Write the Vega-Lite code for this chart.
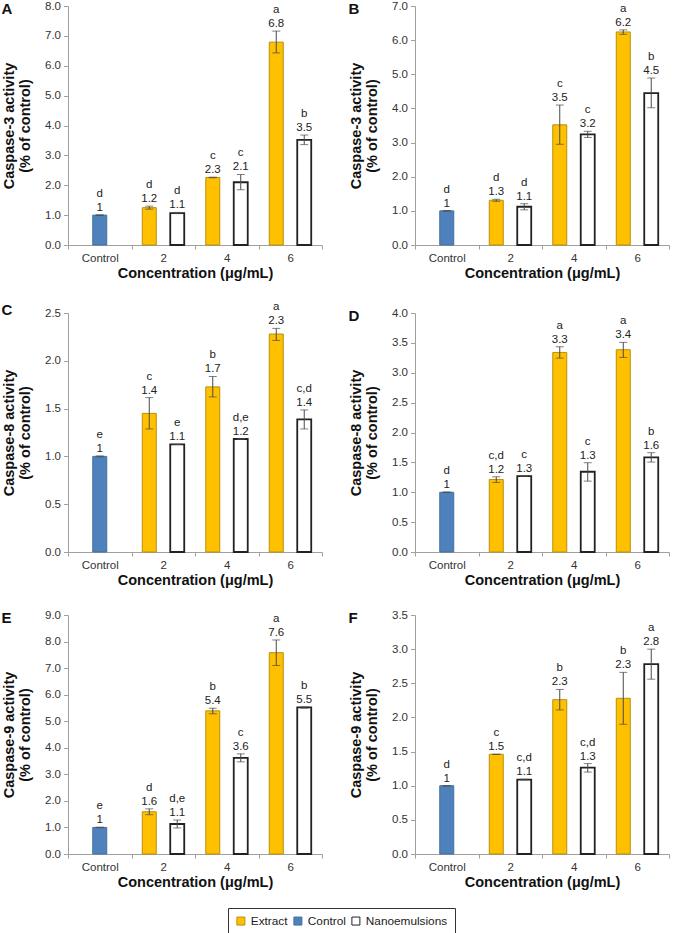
{
  "$schema": "https://vega.github.io/schema/vega-lite/v6.json",
  "padding": {"left": 1, "top": 0, "right": 2, "bottom": 0},
  "config": {
    "font": "Liberation Sans",
    "view": {"stroke": null},
    "axis": {
      "labelFont": "Liberation Sans", "labelFontSize": 11.5, "labelColor": "#333333", "labelOverlap": false,
      "titleFont": "Liberation Sans", "titleFontSize": 14.5, "titleFontWeight": "bold", "titleColor": "#111111", "titleLineHeight": 16,
      "domainColor": "#a0a0a0", "tickColor": "#a0a0a0", "tickSize": 4.5, "grid": false
    },
    "axisY": {"labelPadding": 3, "titlePadding": 12, "format": ".1f", "tickCount": 20},
    "axisX": {"labelAngle": 0, "tickBand": "extent", "labelPadding": 3, "titlePadding": 3, "tickSize": 4},
    "title": {"font": "Liberation Sans", "fontSize": 15, "fontWeight": "bold", "color": "#111111", "anchor": "start", "frame": "bounds", "offset": 0, "dy": 21},
    "legend": {
      "orient": "none", "legendX": 160, "legendY": 902, "direction": "horizontal", "title": null,
      "labelFont": "Liberation Sans", "labelFontSize": 11.8, "labelColor": "#222222", "labelOffset": 4,
      "symbolType": "square", "symbolSize": 64, "symbolStrokeWidth": 1,
      "strokeColor": "#333333", "padding": 7, "columnPadding": 3
    }
  },
  "data": {"values": [
    {"p": "A", "g": "Control", "s": "Control", "pos": "C", "v": 1.0, "lo": 0.99, "hi": 1.01, "sig": "d", "lbl": "1"},
    {"p": "A", "g": "2", "s": "Extract", "pos": "L", "v": 1.25, "lo": 1.2, "hi": 1.3, "sig": "d", "lbl": "1.2"},
    {"p": "A", "g": "2", "s": "Nanoemulsions", "pos": "R", "v": 1.07, "lo": 1.05, "hi": 1.09, "sig": "d", "lbl": "1.1"},
    {"p": "A", "g": "4", "s": "Extract", "pos": "L", "v": 2.26, "lo": 2.25, "hi": 2.27, "sig": "c", "lbl": "2.3"},
    {"p": "A", "g": "4", "s": "Nanoemulsions", "pos": "R", "v": 2.1, "lo": 1.85, "hi": 2.36, "sig": "c", "lbl": "2.1"},
    {"p": "A", "g": "6", "s": "Extract", "pos": "L", "v": 6.79, "lo": 6.43, "hi": 7.16, "sig": "a", "lbl": "6.8"},
    {"p": "A", "g": "6", "s": "Nanoemulsions", "pos": "R", "v": 3.52, "lo": 3.36, "hi": 3.68, "sig": "b", "lbl": "3.5"},

    {"p": "B", "g": "Control", "s": "Control", "pos": "C", "v": 1.0, "lo": 0.99, "hi": 1.01, "sig": "d", "lbl": "1"},
    {"p": "B", "g": "2", "s": "Extract", "pos": "L", "v": 1.31, "lo": 1.28, "hi": 1.34, "sig": "d", "lbl": "1.3"},
    {"p": "B", "g": "2", "s": "Nanoemulsions", "pos": "R", "v": 1.12, "lo": 1.03, "hi": 1.21, "sig": "d", "lbl": "1.1"},
    {"p": "B", "g": "4", "s": "Extract", "pos": "L", "v": 3.52, "lo": 2.95, "hi": 4.1, "sig": "c", "lbl": "3.5"},
    {"p": "B", "g": "4", "s": "Nanoemulsions", "pos": "R", "v": 3.24, "lo": 3.15, "hi": 3.33, "sig": "c", "lbl": "3.2"},
    {"p": "B", "g": "6", "s": "Extract", "pos": "L", "v": 6.24, "lo": 6.17, "hi": 6.3, "sig": "a", "lbl": "6.2"},
    {"p": "B", "g": "6", "s": "Nanoemulsions", "pos": "R", "v": 4.45, "lo": 4.02, "hi": 4.89, "sig": "b", "lbl": "4.5"},

    {"p": "C", "g": "Control", "s": "Control", "pos": "C", "v": 1.0, "lo": 0.995, "hi": 1.005, "sig": "e", "lbl": "1"},
    {"p": "C", "g": "2", "s": "Extract", "pos": "L", "v": 1.45, "lo": 1.287, "hi": 1.615, "sig": "c", "lbl": "1.4"},
    {"p": "C", "g": "2", "s": "Nanoemulsions", "pos": "R", "v": 1.126, "lo": 1.126, "hi": 1.126, "sig": "e", "lbl": "1.1"},
    {"p": "C", "g": "4", "s": "Extract", "pos": "L", "v": 1.727, "lo": 1.622, "hi": 1.836, "sig": "b", "lbl": "1.7"},
    {"p": "C", "g": "4", "s": "Nanoemulsions", "pos": "R", "v": 1.182, "lo": 1.18, "hi": 1.184, "sig": "d,e", "lbl": "1.2"},
    {"p": "C", "g": "6", "s": "Extract", "pos": "L", "v": 2.28, "lo": 2.213, "hi": 2.339, "sig": "a", "lbl": "2.3"},
    {"p": "C", "g": "6", "s": "Nanoemulsions", "pos": "R", "v": 1.388, "lo": 1.287, "hi": 1.486, "sig": "c,d", "lbl": "1.4"},

    {"p": "D", "g": "Control", "s": "Control", "pos": "C", "v": 1.0, "lo": 0.995, "hi": 1.005, "sig": "d", "lbl": "1"},
    {"p": "D", "g": "2", "s": "Extract", "pos": "L", "v": 1.214, "lo": 1.164, "hi": 1.259, "sig": "c,d", "lbl": "1.2"},
    {"p": "D", "g": "2", "s": "Nanoemulsions", "pos": "R", "v": 1.27, "lo": 1.27, "hi": 1.27, "sig": "c", "lbl": "1.3"},
    {"p": "D", "g": "4", "s": "Extract", "pos": "L", "v": 3.34, "lo": 3.245, "hi": 3.435, "sig": "a", "lbl": "3.3"},
    {"p": "D", "g": "4", "s": "Nanoemulsions", "pos": "R", "v": 1.343, "lo": 1.186, "hi": 1.494, "sig": "c", "lbl": "1.3"},
    {"p": "D", "g": "6", "s": "Extract", "pos": "L", "v": 3.385, "lo": 3.256, "hi": 3.508, "sig": "a", "lbl": "3.4"},
    {"p": "D", "g": "6", "s": "Nanoemulsions", "pos": "R", "v": 1.583, "lo": 1.505, "hi": 1.662, "sig": "b", "lbl": "1.6"},

    {"p": "E", "g": "Control", "s": "Control", "pos": "C", "v": 1.0, "lo": 0.99, "hi": 1.01, "sig": "e", "lbl": "1"},
    {"p": "E", "g": "2", "s": "Extract", "pos": "L", "v": 1.59, "lo": 1.48, "hi": 1.7, "sig": "d", "lbl": "1.6"},
    {"p": "E", "g": "2", "s": "Nanoemulsions", "pos": "R", "v": 1.13, "lo": 0.98, "hi": 1.28, "sig": "d,e", "lbl": "1.1"},
    {"p": "E", "g": "4", "s": "Extract", "pos": "L", "v": 5.39, "lo": 5.28, "hi": 5.49, "sig": "b", "lbl": "5.4"},
    {"p": "E", "g": "4", "s": "Nanoemulsions", "pos": "R", "v": 3.62, "lo": 3.47, "hi": 3.77, "sig": "c", "lbl": "3.6"},
    {"p": "E", "g": "6", "s": "Extract", "pos": "L", "v": 7.58, "lo": 7.1, "hi": 8.06, "sig": "a", "lbl": "7.6"},
    {"p": "E", "g": "6", "s": "Nanoemulsions", "pos": "R", "v": 5.52, "lo": 5.49, "hi": 5.54, "sig": "b", "lbl": "5.5"},

    {"p": "F", "g": "Control", "s": "Control", "pos": "C", "v": 1.0, "lo": 0.995, "hi": 1.0, "sig": "d", "lbl": "1"},
    {"p": "F", "g": "2", "s": "Extract", "pos": "L", "v": 1.46, "lo": 1.46, "hi": 1.46, "sig": "c", "lbl": "1.5"},
    {"p": "F", "g": "2", "s": "Nanoemulsions", "pos": "R", "v": 1.09, "lo": 1.085, "hi": 1.095, "sig": "c,d", "lbl": "1.1"},
    {"p": "F", "g": "4", "s": "Extract", "pos": "L", "v": 2.26, "lo": 2.11, "hi": 2.41, "sig": "b", "lbl": "2.3"},
    {"p": "F", "g": "4", "s": "Nanoemulsions", "pos": "R", "v": 1.266, "lo": 1.2, "hi": 1.324, "sig": "c,d", "lbl": "1.3"},
    {"p": "F", "g": "6", "s": "Extract", "pos": "L", "v": 2.28, "lo": 1.9, "hi": 2.66, "sig": "b", "lbl": "2.3"},
    {"p": "F", "g": "6", "s": "Nanoemulsions", "pos": "R", "v": 2.78, "lo": 2.56, "hi": 3.0, "sig": "a", "lbl": "2.8"}
  ]},
  "resolve": {"scale": {"fill": "shared", "stroke": "shared", "y": "independent", "x": "independent"}},
  "spacing": 21,
  "vconcat": [
    {
      "hconcat": [
        {
          "title": {"text": "A"},
          "width": 254, "height": 239,
          "transform": [{"filter": "datum.p == 'A'"}],
          "encoding": {
            "x": {"field": "g", "type": "nominal", "scale": {"domain": ["Control", "2", "4", "6"], "paddingInner": 0, "paddingOuter": 0}, "axis": {"title": "Concentration (μg/mL)"}},
            "xOffset": {"field": "pos", "type": "nominal", "scale": {"domain": ["L", "C", "R"], "paddingInner": 0, "paddingOuter": 0.77}}
          },
          "layer": [
            {"mark": {"type": "bar"},
             "encoding": {
               "y": {"field": "v", "type": "quantitative", "scale": {"domain": [0, 8], "nice": false},
                     "axis": {"values": [0,1,2,3,4,5,6,7,8], "tickCount": 20, "format": ".1f", "title": ["Caspase-3 activity", "(% of control)"]}},
               "fill": {"field": "s", "type": "nominal", "scale": {"domain": ["Extract", "Control", "Nanoemulsions"], "range": ["#FFC000", "#4F81BD", "#FFFFFF"]}},
               "stroke": {"field": "s", "type": "nominal", "scale": {"domain": ["Extract", "Control", "Nanoemulsions"], "range": ["#B8900A", "#41719C", "#222222"]}},
               "strokeWidth": {"condition": {"test": "datum.s == 'Nanoemulsions'", "value": 1.8}, "value": 1}
             }},
            {"mark": {"type": "rule", "color": "#4a4a4a", "strokeWidth": 1}, "encoding": {"y": {"field": "lo", "type": "quantitative"}, "y2": {"field": "hi"}}},
            {"mark": {"type": "tick", "color": "#4a4a4a", "size": 8, "thickness": 1}, "encoding": {"y": {"field": "lo", "type": "quantitative"}}},
            {"mark": {"type": "tick", "color": "#4a4a4a", "size": 8, "thickness": 1}, "encoding": {"y": {"field": "hi", "type": "quantitative"}}},
            {"mark": {"type": "text", "baseline": "alphabetic", "dy": -4, "fontSize": 11.5, "color": "#222222"}, "encoding": {"y": {"field": "hi", "type": "quantitative"}, "text": {"field": "lbl"}}},
            {"mark": {"type": "text", "baseline": "alphabetic", "dy": -18, "fontSize": 11.5, "color": "#222222"}, "encoding": {"y": {"field": "hi", "type": "quantitative"}, "text": {"field": "sig"}}}
          ]
        },
        {
          "title": {"text": "B"},
          "width": 254, "height": 239,
          "transform": [{"filter": "datum.p == 'B'"}],
          "encoding": {
            "x": {"field": "g", "type": "nominal", "scale": {"domain": ["Control", "2", "4", "6"], "paddingInner": 0, "paddingOuter": 0}, "axis": {"title": "Concentration (μg/mL)"}},
            "xOffset": {"field": "pos", "type": "nominal", "scale": {"domain": ["L", "C", "R"], "paddingInner": 0, "paddingOuter": 0.77}}
          },
          "layer": [
            {"mark": {"type": "bar"},
             "encoding": {
               "y": {"field": "v", "type": "quantitative", "scale": {"domain": [0, 7], "nice": false},
                     "axis": {"values": [0,1,2,3,4,5,6,7], "tickCount": 20, "format": ".1f", "title": ["Caspase-3 activity", "(% of control)"]}},
               "fill": {"field": "s", "type": "nominal", "scale": {"domain": ["Extract", "Control", "Nanoemulsions"], "range": ["#FFC000", "#4F81BD", "#FFFFFF"]}},
               "stroke": {"field": "s", "type": "nominal", "scale": {"domain": ["Extract", "Control", "Nanoemulsions"], "range": ["#B8900A", "#41719C", "#222222"]}},
               "strokeWidth": {"condition": {"test": "datum.s == 'Nanoemulsions'", "value": 1.8}, "value": 1}
             }},
            {"mark": {"type": "rule", "color": "#4a4a4a", "strokeWidth": 1}, "encoding": {"y": {"field": "lo", "type": "quantitative"}, "y2": {"field": "hi"}}},
            {"mark": {"type": "tick", "color": "#4a4a4a", "size": 8, "thickness": 1}, "encoding": {"y": {"field": "lo", "type": "quantitative"}}},
            {"mark": {"type": "tick", "color": "#4a4a4a", "size": 8, "thickness": 1}, "encoding": {"y": {"field": "hi", "type": "quantitative"}}},
            {"mark": {"type": "text", "baseline": "alphabetic", "dy": -4, "fontSize": 11.5, "color": "#222222"}, "encoding": {"y": {"field": "hi", "type": "quantitative"}, "text": {"field": "lbl"}}},
            {"mark": {"type": "text", "baseline": "alphabetic", "dy": -18, "fontSize": 11.5, "color": "#222222"}, "encoding": {"y": {"field": "hi", "type": "quantitative"}, "text": {"field": "sig"}}}
          ]
        }
      ],
      "spacing": 25,
      "resolve": {"scale": {"fill": "shared", "stroke": "shared", "y": "independent", "x": "independent"}}
    },
    {
      "spacing": 22,
      "resolve": {"scale": {"fill": "shared", "stroke": "shared", "y": "independent", "x": "independent"}},
      "vconcat": [
        {
          "hconcat": [
            {
              "title": {"text": "C"},
              "width": 254, "height": 239,
              "transform": [{"filter": "datum.p == 'C'"}],
              "encoding": {
                "x": {"field": "g", "type": "nominal", "scale": {"domain": ["Control", "2", "4", "6"], "paddingInner": 0, "paddingOuter": 0}, "axis": {"title": "Concentration (μg/mL)"}},
                "xOffset": {"field": "pos", "type": "nominal", "scale": {"domain": ["L", "C", "R"], "paddingInner": 0, "paddingOuter": 0.77}}
              },
              "layer": [
                {"mark": {"type": "bar"},
                 "encoding": {
                   "y": {"field": "v", "type": "quantitative", "scale": {"domain": [0, 2.5], "nice": false},
                         "axis": {"values": [0,0.5,1,1.5,2,2.5], "tickCount": 20, "format": ".1f", "title": ["Caspase-8 activity", "(% of control)"]}},
                   "fill": {"field": "s", "type": "nominal", "scale": {"domain": ["Extract", "Control", "Nanoemulsions"], "range": ["#FFC000", "#4F81BD", "#FFFFFF"]}},
                   "stroke": {"field": "s", "type": "nominal", "scale": {"domain": ["Extract", "Control", "Nanoemulsions"], "range": ["#B8900A", "#41719C", "#222222"]}},
                   "strokeWidth": {"condition": {"test": "datum.s == 'Nanoemulsions'", "value": 1.8}, "value": 1}
                 }},
                {"mark": {"type": "rule", "color": "#4a4a4a", "strokeWidth": 1}, "encoding": {"y": {"field": "lo", "type": "quantitative"}, "y2": {"field": "hi"}}},
                {"mark": {"type": "tick", "color": "#4a4a4a", "size": 8, "thickness": 1}, "encoding": {"y": {"field": "lo", "type": "quantitative"}}},
                {"mark": {"type": "tick", "color": "#4a4a4a", "size": 8, "thickness": 1}, "encoding": {"y": {"field": "hi", "type": "quantitative"}}},
                {"mark": {"type": "text", "baseline": "alphabetic", "dy": -4, "fontSize": 11.5, "color": "#222222"}, "encoding": {"y": {"field": "hi", "type": "quantitative"}, "text": {"field": "lbl"}}},
                {"mark": {"type": "text", "baseline": "alphabetic", "dy": -18, "fontSize": 11.5, "color": "#222222"}, "encoding": {"y": {"field": "hi", "type": "quantitative"}, "text": {"field": "sig"}}}
              ]
            },
            {
              "title": {"text": "D"},
              "width": 254, "height": 239,
              "transform": [{"filter": "datum.p == 'D'"}],
              "encoding": {
                "x": {"field": "g", "type": "nominal", "scale": {"domain": ["Control", "2", "4", "6"], "paddingInner": 0, "paddingOuter": 0}, "axis": {"title": "Concentration (μg/mL)"}},
                "xOffset": {"field": "pos", "type": "nominal", "scale": {"domain": ["L", "C", "R"], "paddingInner": 0, "paddingOuter": 0.77}}
              },
              "layer": [
                {"mark": {"type": "bar"},
                 "encoding": {
                   "y": {"field": "v", "type": "quantitative", "scale": {"domain": [0, 4], "nice": false},
                         "axis": {"values": [0,0.5,1,1.5,2,2.5,3,3.5,4], "tickCount": 20, "format": ".1f", "title": ["Caspase-8 activity", "(% of control)"]}},
                   "fill": {"field": "s", "type": "nominal", "scale": {"domain": ["Extract", "Control", "Nanoemulsions"], "range": ["#FFC000", "#4F81BD", "#FFFFFF"]}},
                   "stroke": {"field": "s", "type": "nominal", "scale": {"domain": ["Extract", "Control", "Nanoemulsions"], "range": ["#B8900A", "#41719C", "#222222"]}},
                   "strokeWidth": {"condition": {"test": "datum.s == 'Nanoemulsions'", "value": 1.8}, "value": 1}
                 }},
                {"mark": {"type": "rule", "color": "#4a4a4a", "strokeWidth": 1}, "encoding": {"y": {"field": "lo", "type": "quantitative"}, "y2": {"field": "hi"}}},
                {"mark": {"type": "tick", "color": "#4a4a4a", "size": 8, "thickness": 1}, "encoding": {"y": {"field": "lo", "type": "quantitative"}}},
                {"mark": {"type": "tick", "color": "#4a4a4a", "size": 8, "thickness": 1}, "encoding": {"y": {"field": "hi", "type": "quantitative"}}},
                {"mark": {"type": "text", "baseline": "alphabetic", "dy": -4, "fontSize": 11.5, "color": "#222222"}, "encoding": {"y": {"field": "hi", "type": "quantitative"}, "text": {"field": "lbl"}}},
                {"mark": {"type": "text", "baseline": "alphabetic", "dy": -18, "fontSize": 11.5, "color": "#222222"}, "encoding": {"y": {"field": "hi", "type": "quantitative"}, "text": {"field": "sig"}}}
              ]
            }
          ],
          "spacing": 25,
          "resolve": {"scale": {"fill": "shared", "stroke": "shared", "y": "independent", "x": "independent"}}
        },
        {
          "hconcat": [
            {
              "title": {"text": "E"},
              "width": 254, "height": 239,
              "transform": [{"filter": "datum.p == 'E'"}],
              "encoding": {
                "x": {"field": "g", "type": "nominal", "scale": {"domain": ["Control", "2", "4", "6"], "paddingInner": 0, "paddingOuter": 0}, "axis": {"title": "Concentration (μg/mL)"}},
                "xOffset": {"field": "pos", "type": "nominal", "scale": {"domain": ["L", "C", "R"], "paddingInner": 0, "paddingOuter": 0.77}}
              },
              "layer": [
                {"mark": {"type": "bar"},
                 "encoding": {
                   "y": {"field": "v", "type": "quantitative", "scale": {"domain": [0, 9], "nice": false},
                         "axis": {"values": [0,1,2,3,4,5,6,7,8,9], "tickCount": 20, "format": ".1f", "title": ["Caspase-9 activity", "(% of control)"]}},
                   "fill": {"field": "s", "type": "nominal", "scale": {"domain": ["Extract", "Control", "Nanoemulsions"], "range": ["#FFC000", "#4F81BD", "#FFFFFF"]}},
                   "stroke": {"field": "s", "type": "nominal", "scale": {"domain": ["Extract", "Control", "Nanoemulsions"], "range": ["#B8900A", "#41719C", "#222222"]}},
                   "strokeWidth": {"condition": {"test": "datum.s == 'Nanoemulsions'", "value": 1.8}, "value": 1}
                 }},
                {"mark": {"type": "rule", "color": "#4a4a4a", "strokeWidth": 1}, "encoding": {"y": {"field": "lo", "type": "quantitative"}, "y2": {"field": "hi"}}},
                {"mark": {"type": "tick", "color": "#4a4a4a", "size": 8, "thickness": 1}, "encoding": {"y": {"field": "lo", "type": "quantitative"}}},
                {"mark": {"type": "tick", "color": "#4a4a4a", "size": 8, "thickness": 1}, "encoding": {"y": {"field": "hi", "type": "quantitative"}}},
                {"mark": {"type": "text", "baseline": "alphabetic", "dy": -4, "fontSize": 11.5, "color": "#222222"}, "encoding": {"y": {"field": "hi", "type": "quantitative"}, "text": {"field": "lbl"}}},
                {"mark": {"type": "text", "baseline": "alphabetic", "dy": -18, "fontSize": 11.5, "color": "#222222"}, "encoding": {"y": {"field": "hi", "type": "quantitative"}, "text": {"field": "sig"}}}
              ]
            },
            {
              "title": {"text": "F"},
              "width": 254, "height": 239,
              "transform": [{"filter": "datum.p == 'F'"}],
              "encoding": {
                "x": {"field": "g", "type": "nominal", "scale": {"domain": ["Control", "2", "4", "6"], "paddingInner": 0, "paddingOuter": 0}, "axis": {"title": "Concentration (μg/mL)"}},
                "xOffset": {"field": "pos", "type": "nominal", "scale": {"domain": ["L", "C", "R"], "paddingInner": 0, "paddingOuter": 0.77}}
              },
              "layer": [
                {"mark": {"type": "bar"},
                 "encoding": {
                   "y": {"field": "v", "type": "quantitative", "scale": {"domain": [0, 3.5], "nice": false},
                         "axis": {"values": [0,0.5,1,1.5,2,2.5,3,3.5], "tickCount": 20, "format": ".1f", "title": ["Caspase-9 activity", "(% of control)"]}},
                   "fill": {"field": "s", "type": "nominal", "scale": {"domain": ["Extract", "Control", "Nanoemulsions"], "range": ["#FFC000", "#4F81BD", "#FFFFFF"]}},
                   "stroke": {"field": "s", "type": "nominal", "scale": {"domain": ["Extract", "Control", "Nanoemulsions"], "range": ["#B8900A", "#41719C", "#222222"]}},
                   "strokeWidth": {"condition": {"test": "datum.s == 'Nanoemulsions'", "value": 1.8}, "value": 1}
                 }},
                {"mark": {"type": "rule", "color": "#4a4a4a", "strokeWidth": 1}, "encoding": {"y": {"field": "lo", "type": "quantitative"}, "y2": {"field": "hi"}}},
                {"mark": {"type": "tick", "color": "#4a4a4a", "size": 8, "thickness": 1}, "encoding": {"y": {"field": "lo", "type": "quantitative"}}},
                {"mark": {"type": "tick", "color": "#4a4a4a", "size": 8, "thickness": 1}, "encoding": {"y": {"field": "hi", "type": "quantitative"}}},
                {"mark": {"type": "text", "baseline": "alphabetic", "dy": -4, "fontSize": 11.5, "color": "#222222"}, "encoding": {"y": {"field": "hi", "type": "quantitative"}, "text": {"field": "lbl"}}},
                {"mark": {"type": "text", "baseline": "alphabetic", "dy": -18, "fontSize": 11.5, "color": "#222222"}, "encoding": {"y": {"field": "hi", "type": "quantitative"}, "text": {"field": "sig"}}}
              ]
            }
          ],
          "spacing": 25,
          "resolve": {"scale": {"fill": "shared", "stroke": "shared", "y": "independent", "x": "independent"}}
        }
      ]
    }
  ]
}
